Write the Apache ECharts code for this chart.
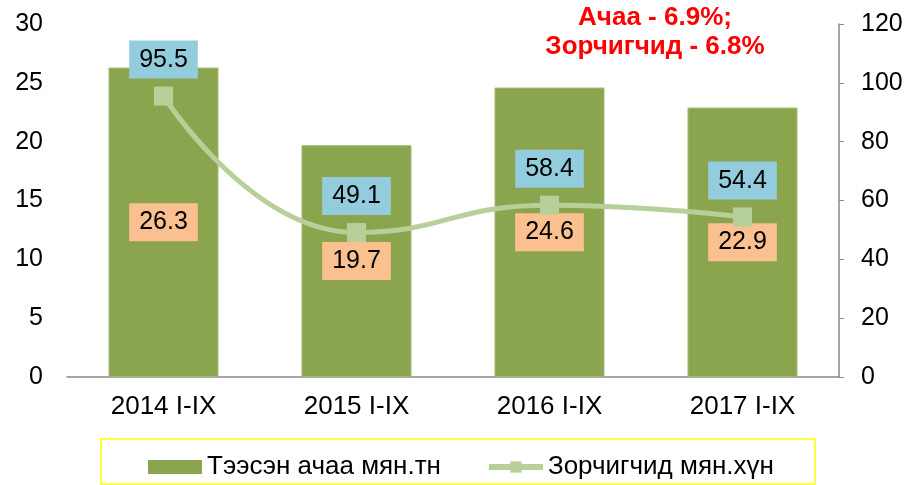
<!DOCTYPE html>
<html>
<head>
<meta charset="utf-8">
<script src="https://cdn.jsdelivr.net/npm/echarts@6/dist/echarts.min.js"></script>
<style>html,body{margin:0;padding:0;background:#fff}#main{width:912px;height:485px}</style>
</head>
<body>
<div id="main"></div>
<script>
var years = ['2014 I-IX', '2015 I-IX', '2016 I-IX', '2017 I-IX'];
var cargo = [26.3, 19.7, 24.6, 22.9];
var passengers = [95.5, 49.1, 58.4, 54.4];
var cargoName = 'Тээсэн ачаа мян.тн';
var passName = 'Зорчигчид мян.хүн';

var font = 'Liberation Sans, Arial, sans-serif';
var chart = echarts.init(document.getElementById('main'));
chart.setOption({
    animation: false,
    textStyle: {fontFamily: font},
    grid: {left: 67, right: 73, top: 24, bottom: 108},
    graphic: [{
        type: 'text',
        x: 655, y: 3,
        style: {
            text: 'Ачаа - 6.9%;\nЗорчигчид - 6.8%',
            fill: '#ff0000',
            font: 'bold 26px ' + font,
            textAlign: 'center',
            lineHeight: 29
        }
    }, {
        type: 'rect',
        shape: {x: 101, y: 439, width: 714, height: 45},
        style: {fill: 'none', stroke: '#ffff00', lineWidth: 1.5},
        silent: true
    }],
    legend: {
        left: 143, top: 449,
        itemGap: 45,
        itemWidth: 54, itemHeight: 14,
        textStyle: {fontSize: 26, color: '#000', fontFamily: font},
        data: [
            {name: cargoName, icon: 'rect', itemStyle: {color: '#8ba54e', borderWidth: 0}},
            {name: passName, lineStyle: {width: 6, color: '#b7cf98'}, itemStyle: {color: '#b7cf98'}}
        ]
    },
    xAxis: {
        type: 'category',
        data: years,
        axisLine: {lineStyle: {color: '#888', width: 1.5}},
        axisTick: {show: false},
        axisLabel: {fontSize: 26, color: '#000', margin: 17}
    },
    yAxis: [{
        type: 'value', min: 0, max: 30, interval: 5,
        axisLine: {show: false}, axisTick: {show: false},
        splitLine: {show: false},
        axisLabel: {fontSize: 25, color: '#000', margin: 24}
    }, {
        type: 'value', min: 0, max: 120, interval: 20, position: 'right',
        axisLine: {show: true, lineStyle: {color: '#888', width: 1.5}},
        axisTick: {show: true, inside: false, length: 5, lineStyle: {color: '#888'}},
        splitLine: {show: false},
        axisLabel: {fontSize: 25, color: '#000', margin: 22}
    }],
    series: [{
        name: cargoName,
        type: 'bar',
        data: cargo,
        barWidth: '57%',
        itemStyle: {color: '#8ba54e', borderColor: '#a4bb75', borderWidth: 1},
        label: {
            show: true, position: 'inside',
            fontSize: 25, color: '#000',
            backgroundColor: '#fac090',
            padding: [7, 10, 6, 10]
        }
    }, {
        name: passName,
        type: 'line',
        yAxisIndex: 1,
        data: passengers,
        smooth: true,
        symbol: 'rect', symbolSize: 19,
        itemStyle: {color: '#b7cf98'},
        lineStyle: {color: '#b7cf98', width: 5},
        label: {
            show: true, position: 'top', distance: 8,
            fontSize: 25, color: '#000',
            backgroundColor: '#93cddd',
            padding: [7, 10, 6, 10]
        },
        z: 3
    }]
});
</script>
</body>
</html>
